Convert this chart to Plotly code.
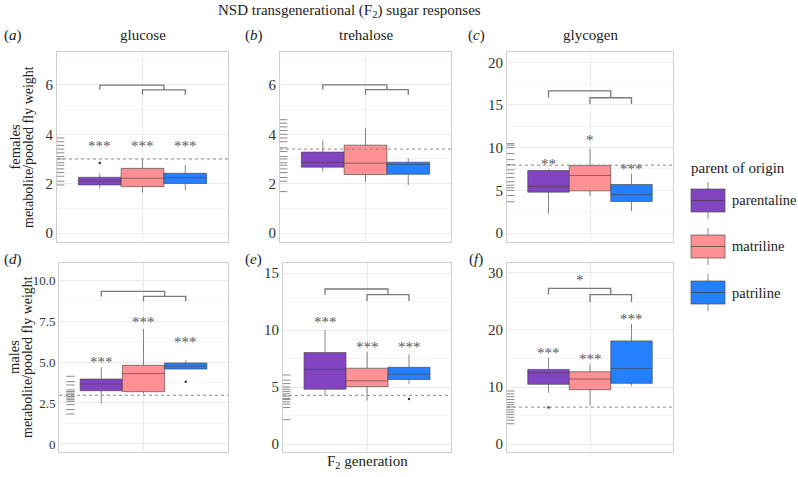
import plotly.graph_objects as go

W, H = 798, 477
FONT = "'Liberation Serif', 'Times New Roman', Times, 'DejaVu Serif', serif"

groups = ["parentaline", "matriline", "patriline"]
colors = ["#8344C2", "#FF9194", "#2480FF"]
panels = ["a", "b", "c", "d", "e", "f"]
metabolites = ["glucose", "trehalose", "glycogen"]
sexes = ["females", "males"]
y_title = "metabolite/pooled fly weight"

# box statistics per panel, in order parentaline, matriline, patriline
q1 = {"a": [1.95, 1.88, 2.01], "b": [2.67, 2.37, 2.38], "c": [4.79, 4.94, 3.70],
      "d": [3.25, 3.19, 4.57], "e": [4.81, 5.04, 5.66], "f": [10.47, 9.53, 10.64]}
median = {"a": [2.11, 2.22, 2.24], "b": [2.87, 2.83, 2.78], "c": [5.45, 6.73, 4.51],
          "d": [3.66, 4.29, 4.74], "e": [6.56, 5.54, 6.12], "f": [12.5, 11.4, 13.26]}
q3 = {"a": [2.26, 2.62, 2.42], "b": [3.28, 3.56, 2.87], "c": [7.32, 7.90, 5.68],
      "d": [3.96, 4.80, 4.94], "e": [8.02, 6.65, 6.73], "f": [13.08, 12.67, 18.08]}
lower = {"a": [1.81, 1.64, 1.74], "b": [2.49, 2.07, 1.94], "c": [2.30, 4.32, 2.57],
         "d": [2.46, 3.07, 4.57], "e": [4.23, 3.82, 5.25], "f": [9.0, 6.74, 10.17]}
upper = {"a": [2.42, 2.99, 2.76], "b": [3.75, 4.24, 3.03], "c": [7.5, 9.88, 6.96],
         "d": [4.67, 7.01, 5.10], "e": [10.0, 8.10, 7.87], "f": [15.17, 13.95, 21.1]}
# outliers: (group index, value)
outliers = {"a": [(0, 2.84)], "b": [], "c": [], "d": [(2, 3.80)],
            "e": [(2, 3.94)], "f": [(0, 6.40)]}

# control (parental generation) values shown as rug, and their mean
control_rug = {
    "a": [1.95, 2.1, 2.3, 2.45, 2.6, 2.75, 2.85, 3.0, 3.1, 3.25, 3.4, 3.55, 3.7, 3.85],
    "b": [1.68, 2.1, 2.25, 2.45, 2.6, 2.75, 2.85, 3.0, 3.1, 3.3, 3.45, 3.7, 3.85, 4.0, 4.15, 4.3, 4.45, 4.59],
    "c": [3.66, 4.4, 5.0, 5.3, 5.6, 6.0, 6.5, 7.0, 7.4, 8.0, 8.6, 9.3, 10.0, 10.3, 10.47],
    "d": [1.83, 2.1, 2.4, 2.6, 2.7, 2.8, 2.9, 3.0, 3.1, 3.2, 3.3, 3.6, 3.8, 4.13],
    "e": [2.13, 3.2, 3.5, 3.7, 3.9, 4.0, 4.2, 4.4, 4.6, 4.8, 5.0, 5.3, 5.6, 6.06],
    "f": [3.55, 4.2, 4.7, 5.2, 5.6, 6.0, 6.5, 6.9, 7.3, 7.8, 8.3, 8.8, 9.3],
}
control_mean = {"a": 3.0, "b": 3.4, "c": 7.95, "d": 2.97, "e": 4.27, "f": 6.47}

# significance stars vs control (per group) and their heights
stars = {"a": ["***", "***", "***"], "b": ["", "", ""], "c": ["**", "*", "***"],
         "d": ["***", "***", "***"], "e": ["***", "***", "***"], "f": ["***", "***", "***"]}
star_y = {"a": [3.64, 3.64, 3.64], "b": [0, 0, 0], "c": [8.4, 11.2, 7.9],
          "d": [5.18, 7.62, 6.4], "e": [11.0, 8.77, 8.77], "f": [16.45, 15.4, 22.4]}
# bracket levels: top, middle, low ; bracket star
bracket_y = {"a": [5.99, 5.80, 5.60], "b": [6.0, 5.81, 5.60], "c": [16.65, 15.84, 15.1],
             "d": [9.31, 9.0, 8.7], "e": [13.6, 13.1, 12.54], "f": [27.3, 26.2, 24.9]}
bracket_star = {"a": "", "b": "", "c": "", "d": "", "e": "", "f": "*"}

# axes
y_range = {"a": [-0.36, 7.33], "b": [-0.36, 7.33], "c": [-1.05, 21.2],
           "d": [-0.49, 11.04], "e": [-0.7, 15.88], "f": [-1.4, 31.75]}
y_tickvals = {"a": [0, 2, 4, 6], "b": [0, 2, 4, 6], "c": [0, 5, 10, 15, 20],
              "d": [0, 2.5, 5, 7.5, 10], "e": [0, 5, 10, 15], "f": [0, 10, 20, 30]}
y_ticktext = {"a": ["0", "2", "4", "6"], "b": ["0", "2", "4", "6"],
              "c": ["0", "5", "10", "15", "20"], "d": ["0", "2.5", "5.0", "7.5", "10.0"],
              "e": ["0", "5", "10", "15"], "f": ["0", "10", "20", "30"]}

# pixel layout of each plot area (left, right, top, bottom)
px_box = {"a": (57, 228, 52, 242), "b": (280, 451, 52, 242), "c": (507, 673, 52, 242),
          "d": (59, 228, 263, 452), "e": (283, 451, 263, 452), "f": (507, 673, 263, 452)}
rug_px = {"a": 3.2, "b": 3.2, "c": 3.2, "d": 11.5, "e": 3.2, "f": 3.2}
tick_size = {"a": 15, "b": 15, "c": 15, "d": 13, "e": 15, "f": 15}
letter_x = {"a": 2, "b": 243, "c": 466, "d": 2, "e": 243, "f": 467}
letter_y = {"a": 35, "b": 35, "c": 35, "d": 259, "e": 259, "f": 259}
row_title_x = [(14.5, 29), (13.5, 27.5)]

positions = [-0.25, 0.0, 0.25]
BOXW = 0.25
TXT = "#222222"
STAR = "#5a5a5a"


def fx(x):
    return x / W


def fy(y):
    return 1 - y / H


fig = go.Figure()
shapes = []
annotations = []
layout_axes = {}

for i, p in enumerate(panels):
    n = i + 1
    xa = "x" if n == 1 else f"x{n}"
    ya = "y" if n == 1 else f"y{n}"
    l, r, t, b = px_box[p]
    layout_axes["xaxis" if n == 1 else f"xaxis{n}"] = dict(
        domain=[fx(l), fx(r)], anchor=ya, range=[-0.5, 0.5],
        tickvals=[0], showticklabels=False, showgrid=True, gridcolor="#ebebeb",
        zeroline=False, showline=True, mirror=True, linecolor="#cfcfcf", linewidth=1,
        ticks="", fixedrange=True)
    tv = y_tickvals[p]
    step = tv[1] - tv[0]
    layout_axes["yaxis" if n == 1 else f"yaxis{n}"] = dict(
        domain=[fy(b), fy(t)], anchor=xa, range=y_range[p],
        tickvals=tv, ticktext=y_ticktext[p], showgrid=True, gridcolor="#ebebeb",
        minor=dict(dtick=step / 2, tick0=0, showgrid=True, gridcolor="#f5f5f5"),
        zeroline=False, showline=True, mirror=True, linecolor="#cfcfcf", linewidth=1,
        ticks="", tickfont=dict(family=FONT, size=tick_size[p], color="#333333"),
        fixedrange=True)

    for g in range(3):
        fig.add_trace(go.Box(
            x=[positions[g]], q1=[q1[p][g]], median=[median[p][g]], q3=[q3[p][g]],
            lowerfence=[lower[p][g]], upperfence=[upper[p][g]],
            width=BOXW, whiskerwidth=0, fillcolor=colors[g],
            line=dict(color="rgba(70,70,70,0.65)", width=1),
            boxpoints=False, name=groups[g], showlegend=False,
            xaxis=xa, yaxis=ya, hoverinfo="skip"))
    if outliers[p]:
        fig.add_trace(go.Scatter(
            x=[positions[g] for g, v in outliers[p]], y=[v for g, v in outliers[p]],
            mode="markers", marker=dict(size=2.5, color="#333333"),
            showlegend=False, xaxis=xa, yaxis=ya, hoverinfo="skip"))
    # rug of control values along the left edge
    fig.add_trace(go.Scatter(
        x=[-0.5 + rug_px[p] / (r - l)] * len(control_rug[p]), y=control_rug[p],
        mode="markers", marker=dict(symbol="line-ew", size=6,
                                    line=dict(width=1, color="#8a8a8a")),
        showlegend=False, xaxis=xa, yaxis=ya, hoverinfo="skip", cliponaxis=False))
    # control mean line
    shapes.append(dict(type="line", xref=xa, yref=ya, x0=-0.5, x1=0.5,
                       y0=control_mean[p], y1=control_mean[p],
                       line=dict(color="#8a8a8a", width=1, dash="dot")))
    # brackets
    yt, ym, yl = bracket_y[p]
    shapes.append(dict(type="path", xref=xa, yref=ya,
                       path=f"M {positions[0]},{ym} L {positions[0]},{yt} L 0.125,{yt} L 0.125,{ym}",
                       line=dict(color="#7a7a7a", width=1.3)))
    shapes.append(dict(type="path", xref=xa, yref=ya,
                       path=f"M {positions[1]},{yl} L {positions[1]},{ym} L {positions[2]},{ym} L {positions[2]},{yl}",
                       line=dict(color="#7a7a7a", width=1.3)))
    if bracket_star[p]:
        annotations.append(dict(xref=xa, yref=ya, x=(positions[0] + 0.125) / 2, y=yt,
                                text=bracket_star[p], showarrow=False, yanchor="bottom",
                                yshift=-2, font=dict(family=FONT, size=15, color=STAR)))
    for g in range(3):
        if stars[p][g]:
            annotations.append(dict(xref=xa, yref=ya, x=positions[g], y=star_y[p][g],
                                    text=stars[p][g], showarrow=False, yanchor="middle",
                                    yshift=-3, font=dict(family=FONT, size=15, color=STAR)))
    # panel letter
    annotations.append(dict(xref="paper", yref="paper", x=fx(letter_x[p]), y=fy(letter_y[p]),
                            xanchor="left", yanchor="middle",
                            text=f"(<i>{p}</i>)", showarrow=False,
                            font=dict(family=FONT, size=15, color=TXT)))

# column titles
for j, m in enumerate(metabolites):
    l, r, t, b = px_box[panels[j]]
    annotations.append(dict(xref="paper", yref="paper", x=fx((l + r) / 2), y=fy(35),
                            text=m, showarrow=False, xanchor="center", yanchor="middle",
                            font=dict(family=FONT, size=15, color=TXT)))

# row titles (two separate rotated lines)
for j, s in enumerate(sexes):
    l, r, t, b = px_box[panels[3 * j]]
    x1, x2 = row_title_x[j]
    annotations.append(dict(xref="paper", yref="paper", x=fx(x1), y=fy((t + b) / 2),
                            text=s, showarrow=False,
                            textangle=-90, xanchor="center", yanchor="middle",
                            font=dict(family=FONT, size=14.5, color=TXT)))
    annotations.append(dict(xref="paper", yref="paper", x=fx(x2), y=fy((t + b) / 2),
                            text=y_title, showarrow=False,
                            textangle=-90, xanchor="center", yanchor="middle",
                            font=dict(family=FONT, size=14, color=TXT)))

# overall title and x title
annotations.append(dict(xref="paper", yref="paper", x=fx(349), y=fy(11),
                        text="NSD transgenerational (F<sub>2</sub>) sugar responses",
                        showarrow=False, xanchor="center", yanchor="middle",
                        font=dict(family=FONT, size=15, color=TXT)))
annotations.append(dict(xref="paper", yref="paper", x=fx(367), y=fy(462),
                        text="F<sub>2</sub> generation", showarrow=False,
                        xanchor="center", yanchor="middle",
                        font=dict(family=FONT, size=15, color=TXT)))

# legend (drawn)
annotations.append(dict(xref="paper", yref="paper", x=fx(689), y=fy(168),
                        text="parent of origin", showarrow=False, xanchor="left",
                        yanchor="middle", font=dict(family=FONT, size=15, color=TXT)))
leg_top = 189
for g in range(3):
    y0 = leg_top + 46 * g
    y1 = y0 + 23
    cx = 708
    shapes.append(dict(type="line", xref="paper", yref="paper", x0=fx(cx), x1=fx(cx),
                       y0=fy(y0 - 7), y1=fy(y1 + 7), line=dict(color="#8a8a8a", width=1)))
    shapes.append(dict(type="rect", xref="paper", yref="paper", x0=fx(691), x1=fx(725),
                       y0=fy(y1), y1=fy(y0), fillcolor=colors[g],
                       line=dict(color="rgba(70,70,70,0.65)", width=1)))
    shapes.append(dict(type="line", xref="paper", yref="paper", x0=fx(691), x1=fx(725),
                       y0=fy((y0 + y1) / 2), y1=fy((y0 + y1) / 2),
                       line=dict(color="rgba(60,60,60,0.7)", width=1)))
    annotations.append(dict(xref="paper", yref="paper", x=fx(730), y=fy((y0 + y1) / 2),
                            text=groups[g], showarrow=False, xanchor="left", yanchor="middle",
                            font=dict(family=FONT, size=14.5, color=TXT)))

fig.update_layout(
    width=W, height=H, margin=dict(l=0, r=0, t=0, b=0),
    paper_bgcolor="white", plot_bgcolor="white",
    boxmode="overlay", showlegend=False,
    shapes=shapes, annotations=annotations,
    font=dict(family=FONT, size=14, color=TXT),
    **layout_axes)

fig.write_html("out.html", config={"displayModeBar": False},
               post_script="document.body.style.margin='0px';document.body.style.padding='0px';")
